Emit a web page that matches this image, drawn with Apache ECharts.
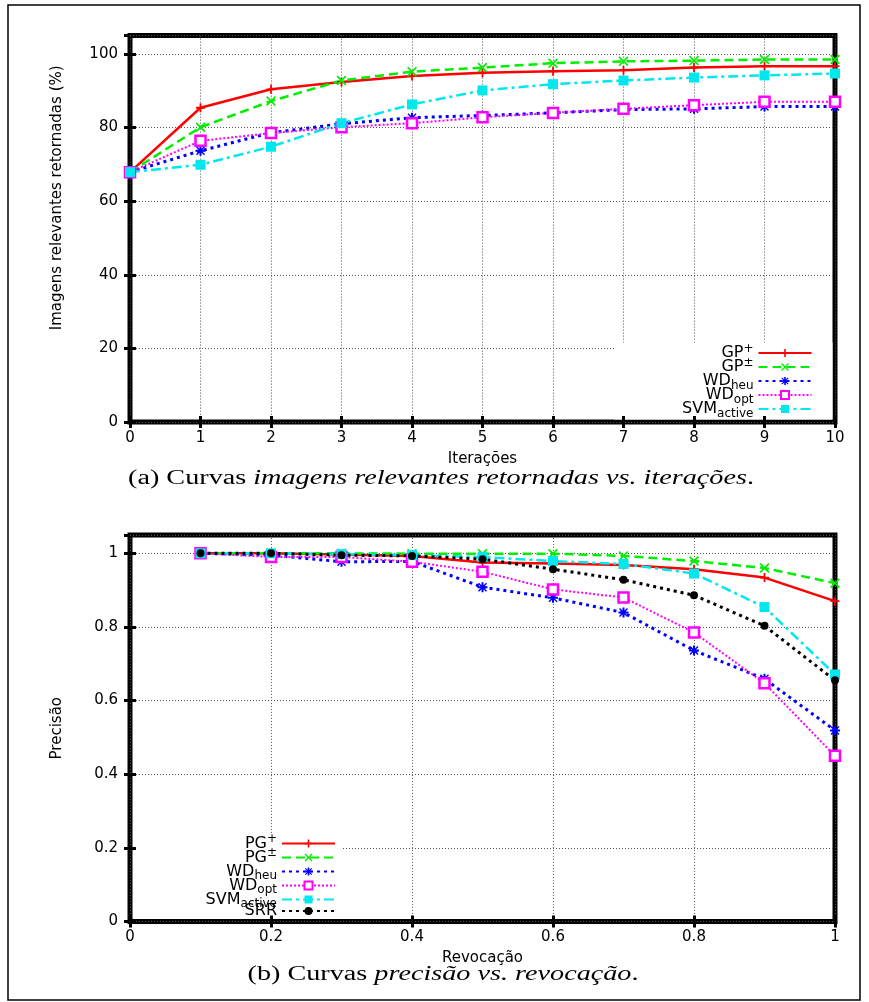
<!DOCTYPE html>
<html>
<head>
<meta charset="utf-8">
<script src="https://cdn.jsdelivr.net/npm/echarts/dist/echarts.min.js"></script>
<style>html,body{margin:0;padding:0;background:#fff;}#chart{width:869px;height:1002px;}</style>
</head>
<body>
<div id="chart"></div>
<script>
// ---- Data: (a) relevant images retrieved vs. iterations ----
const iterations = [0, 1, 2, 3, 4, 5, 6, 7, 8, 9, 10];
const gpPlus   = [67.9, 85.4, 90.4, 92.4, 94.0, 94.9, 95.3, 95.6, 96.3, 96.7, 96.7];
const gpPm     = [67.9, 80.1, 87.2, 92.8, 95.2, 96.3, 97.5, 98.0, 98.2, 98.5, 98.5];
const wdHeu    = [67.9, 73.7, 78.6, 81.0, 82.7, 83.3, 84.0, 84.9, 85.1, 85.7, 85.7];
const wdOpt    = [67.9, 76.4, 78.5, 80.1, 81.2, 82.8, 84.0, 85.1, 86.1, 87.0, 87.0];
const svmAct   = [67.9, 69.9, 74.8, 81.2, 86.3, 90.1, 91.8, 92.8, 93.6, 94.2, 94.7];

// ---- Data: (b) precision vs. recall ----
const recall   = [0.1, 0.2, 0.3, 0.4, 0.5, 0.6, 0.7, 0.8, 0.9, 1.0];
const pgPlus   = [1, 1, 0.997, 0.993, 0.975, 0.972, 0.968, 0.957, 0.934, 0.870];
const pgPm     = [1, 1, 1, 0.999, 0.999, 0.999, 0.993, 0.979, 0.960, 0.919];
const wdHeuB   = [1, 0.995, 0.977, 0.978, 0.908, 0.879, 0.839, 0.736, 0.659, 0.519];
const wdOptB   = [1, 0.990, 0.990, 0.977, 0.950, 0.902, 0.880, 0.785, 0.647, 0.450];
const svmActB  = [1, 1, 0.998, 0.995, 0.990, 0.979, 0.971, 0.945, 0.854, 0.671];
const srr      = [1, 1, 0.995, 0.993, 0.984, 0.957, 0.928, 0.886, 0.803, 0.655];

// ---- Text ----
const xNameA = 'Iterações';
const yNameA = 'Imagens relevantes retornadas (%)';
const xNameB = 'Revocação';
const yNameB = 'Precisão';
const captionA = '{r|(a) Curvas }{i|imagens relevantes retornadas vs. iterações}{r|.}';
const captionB = '{r|(b) Curvas }{i|precisão vs. revocação}{r|.}';
const legendText = {
  'GP+': '{n|GP}{sup|+}', 'GP±': '{n|GP}{sup|±}', 'WDheu': '{n|WD}{sub|heu}',
  'WDopt': '{n|WD}{sub|opt}', 'SVMactive': '{n|SVM}{sub|active}',
  'PG+': '{n|PG}{sup|+}', 'PG±': '{n|PG}{sup|±}', 'WDheu ': '{n|WD}{sub|heu}',
  'WDopt ': '{n|WD}{sub|opt}', 'SVMactive ': '{n|SVM}{sub|active}', 'SRR': '{n|SRR}'
};

const FONT = 'DejaVu Sans';
const SERIF = 'Liberation Serif';

const SYM_PLUS = 'path://M4,0H6V4H10V6H6V10H4V6H0V4H4Z';
const SYM_CROSS = 'path://M1.2,0L5,3.8L8.8,0L10,1.2L6.2,5L10,8.8L8.8,10L5,6.2L1.2,10L0,8.8L3.8,5L0,1.2Z';
const SYM_STAR = 'path://M4,0H6V10H4Z M0,4H10V6H0Z M1.5,0.5L9.5,8.5L8.5,9.5L0.5,1.5Z M8.5,0.5L9.5,1.5L1.5,9.5L0.5,8.5Z';

const styles = {
  gpPlus: {color: '#ff0000', lineStyle: {width: 2.5, type: 'solid'}, symbol: SYM_PLUS, symbolSize: 9},
  gpPm:   {color: '#00ee00', lineStyle: {width: 2.5, type: [9, 5]}, symbol: SYM_CROSS, symbolSize: 10},
  wdHeu:  {color: '#0000ff', lineStyle: {width: 3, type: [3, 4]}, symbol: SYM_STAR, symbolSize: 10},
  wdOpt:  {color: '#ff00ff', lineStyle: {width: 2, type: [2, 2]}, symbol: 'rect', symbolSize: 10, hollow: true},
  svm:    {color: '#00e8ee', lineStyle: {width: 2.5, type: [10, 4, 3, 4]}, symbol: 'rect', symbolSize: 10},
  srr:    {color: '#000000', lineStyle: {width: 3, type: [3, 4]}, symbol: 'circle', symbolSize: 8}
};

function makeSeries(name, xs, ys, st, gi) {
  const item = st.hollow
    ? {color: '#ffffff', borderColor: st.color, borderWidth: 2.5}
    : {color: st.color};
  return {
    type: 'line', name: name,
    xAxisIndex: gi * 3, yAxisIndex: gi * 3,
    data: xs.map((x, i) => [x, ys[i]]),
    symbol: st.symbol, symbolSize: st.symbolSize, showAllSymbol: true,
    lineStyle: Object.assign({color: st.color}, st.lineStyle),
    itemStyle: item,
    z: 2, animation: false, clip: false
  };
}

const tickStyle = {show: true, inside: true, length: 6, lineStyle: {color: '#000', width: 3}};
const labelStyle = {color: '#000', fontFamily: FONT, fontSize: 15};
const splitStyle = {show: true, lineStyle: {color: '#555', width: 1, type: [1, 2]}};

function xAxes(gi, min, max, interval, name, nameGap, margin) {
  return [
    {gridIndex: gi, type: 'value', min, max, interval, position: 'bottom', z: 5,
     axisLine: {show: false}, axisTick: tickStyle, splitLine: {show: false},
     axisLabel: Object.assign({margin: margin}, labelStyle),
     name: name, nameLocation: 'middle', nameGap: nameGap,
     nameTextStyle: {color: '#000', fontFamily: FONT, fontSize: 15}},
    {gridIndex: gi, type: 'value', min, max, interval, position: 'top', z: 5,
     axisLine: {show: false}, axisTick: tickStyle, axisLabel: {show: false}, splitLine: {show: false}},
    {gridIndex: gi, type: 'value', min, max, interval, position: 'bottom', z: 0,
     axisLine: {show: false}, axisTick: {show: false}, axisLabel: {show: false}, splitLine: splitStyle}
  ];
}
function yAxes(gi, min, max, interval, name, nameGap, namePad) {
  return [
    {gridIndex: gi, type: 'value', min, max, interval, position: 'left', z: 5,
     axisLine: {show: false}, axisTick: tickStyle, splitLine: {show: false},
     axisLabel: Object.assign({margin: 12, showMaxLabel: false}, labelStyle),
     name: name, nameLocation: 'middle', nameGap: nameGap,
     nameTextStyle: {color: '#000', fontFamily: FONT, fontSize: 15, padding: namePad}},
    {gridIndex: gi, type: 'value', min, max, interval, position: 'right', z: 5,
     axisLine: {show: false}, axisTick: tickStyle, axisLabel: {show: false}, splitLine: {show: false}},
    {gridIndex: gi, type: 'value', min, max, interval, position: 'left', z: 0,
     axisLine: {show: false}, axisTick: {show: false}, axisLabel: {show: false}, splitLine: splitStyle}
  ];
}

const rich = {
  n: {fontFamily: FONT, fontSize: 16, lineHeight: 14, color: '#000'},
  sup: {fontFamily: FONT, fontSize: 12, lineHeight: 14, color: '#000', padding: [0, 0, 9, 0]},
  sub: {fontFamily: FONT, fontSize: 12, lineHeight: 14, color: '#000', padding: [9, 0, 0, 0]}
};
function legendCfg(data, pos, padding) {
  return Object.assign({
    show: true, orient: 'vertical', align: 'right', itemWidth: 53, itemHeight: 10, itemGap: -7,
    padding: padding, backgroundColor: '#ffffff', z: 1, selectedMode: false, data: data,
    formatter: n => legendText[n],
    textStyle: {color: '#000', fontFamily: FONT, fontSize: 16, lineHeight: 14, rich: rich}
  }, pos);
}

const option = {
  backgroundColor: '#ffffff',
  animation: false,
  grid: [
    {left: 130, right: 34, top: 35.6, bottom: 580, show: true, borderColor: '#000', borderWidth: 5, backgroundColor: 'transparent', containLabel: false},
    {left: 130, right: 34, top: 534.9, bottom: 80.5, show: true, borderColor: '#000', borderWidth: 5, backgroundColor: 'transparent', containLabel: false}
  ],
  xAxis: [].concat(
    xAxes(0, 0, 10, 1, xNameA, 30, 9),
    xAxes(1, 0, 1, 0.2, xNameB, 29, 8)
  ),
  yAxis: [].concat(
    yAxes(0, 0, 105, 20, yNameA, 65, [0, 0, 0, 62]),
    yAxes(1, 0, 1.05, 0.2, yNameB, 65, 0)
  ),
  legend: [
    legendCfg(['GP+', 'GP±', 'WDheu', 'WDopt', 'SVMactive'], {right: 36.5, bottom: 582.5}, [0, 20, 0, 68]),
    legendCfg(['PG+', 'PG±', 'WDheu ', 'WDopt ', 'SVMactive ', 'SRR'], {right: 526, bottom: 83}, [0, 7, 0, 70])
  ],
  series: [
    makeSeries('GP+', iterations, gpPlus, styles.gpPlus, 0),
    makeSeries('GP±', iterations, gpPm, styles.gpPm, 0),
    makeSeries('WDheu', iterations, wdHeu, styles.wdHeu, 0),
    makeSeries('WDopt', iterations, wdOpt, styles.wdOpt, 0),
    makeSeries('SVMactive', iterations, svmAct, styles.svm, 0),
    makeSeries('PG+', recall, pgPlus, styles.gpPlus, 1),
    makeSeries('PG±', recall, pgPm, styles.gpPm, 1),
    makeSeries('WDheu ', recall, wdHeuB, styles.wdHeu, 1),
    makeSeries('WDopt ', recall, wdOptB, styles.wdOpt, 1),
    makeSeries('SVMactive ', recall, svmActB, styles.svm, 1),
    makeSeries('SRR', recall, srr, styles.srr, 1)
  ],
  graphic: [
    {type: 'rect', silent: true, z: 0, shape: {x: 8, y: 5, width: 852, height: 995},
     style: {fill: 'none', stroke: '#000', lineWidth: 1.5}},
    {type: 'text', silent: true, x: 441, y: 479, scaleX: 1.41,
     style: {text: captionA, align: 'center', verticalAlign: 'middle', textAlign: 'center', textVerticalAlign: 'middle',
       rich: {r: {fontFamily: SERIF, fontSize: 20, fill: '#000', color: '#000'},
              i: {fontFamily: SERIF, fontSize: 20, fontStyle: 'italic', fill: '#000', color: '#000'}}}},
    {type: 'text', silent: true, x: 443, y: 975, scaleX: 1.41,
     style: {text: captionB, align: 'center', verticalAlign: 'middle', textAlign: 'center', textVerticalAlign: 'middle',
       rich: {r: {fontFamily: SERIF, fontSize: 20, fill: '#000', color: '#000'},
              i: {fontFamily: SERIF, fontSize: 20, fontStyle: 'italic', fill: '#000', color: '#000'}}}}
  ]
};

const chart = echarts.init(document.getElementById('chart'), null, {renderer: 'canvas'});
chart.setOption(option);
</script>
</body>
</html>
